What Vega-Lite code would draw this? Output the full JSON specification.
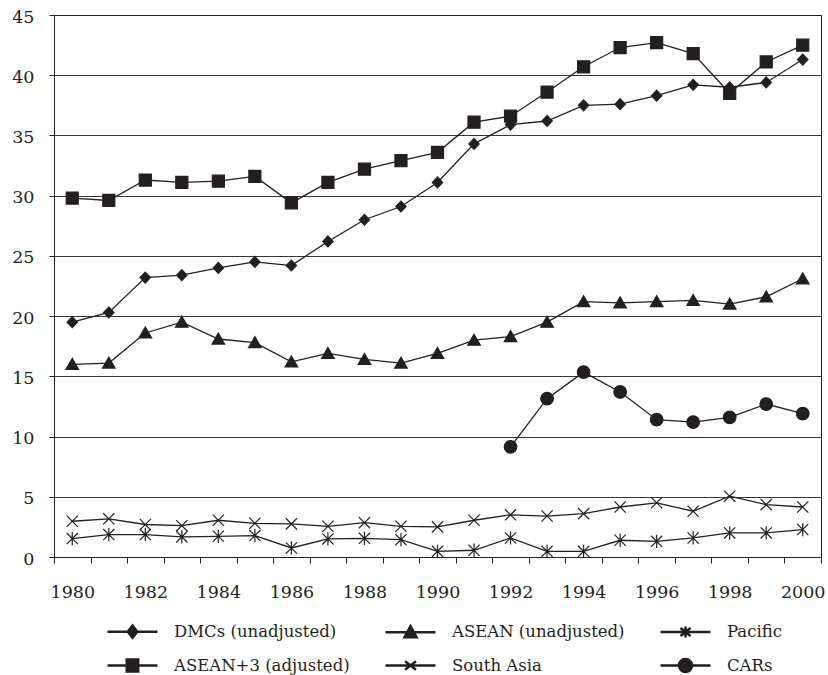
{
  "$schema": "https://vega.github.io/schema/vega-lite/v6.json",
  "width": 767,
  "height": 542,
  "autosize": {"type": "none"},
  "padding": {"left": 54, "top": 15, "right": 7, "bottom": 118},
  "background": "white",
  "config": {
    "view": {"stroke": "#231f20", "strokeWidth": 1},
    "font": "'DejaVu Serif', 'Liberation Serif', serif"
  },
  "data": {
    "values": [
      {"year": 1980, "series": "DMCs (unadjusted)", "value": 19.5},
      {"year": 1981, "series": "DMCs (unadjusted)", "value": 20.3},
      {"year": 1982, "series": "DMCs (unadjusted)", "value": 23.2},
      {"year": 1983, "series": "DMCs (unadjusted)", "value": 23.4},
      {"year": 1984, "series": "DMCs (unadjusted)", "value": 24.0},
      {"year": 1985, "series": "DMCs (unadjusted)", "value": 24.5},
      {"year": 1986, "series": "DMCs (unadjusted)", "value": 24.2},
      {"year": 1987, "series": "DMCs (unadjusted)", "value": 26.2},
      {"year": 1988, "series": "DMCs (unadjusted)", "value": 28.0},
      {"year": 1989, "series": "DMCs (unadjusted)", "value": 29.1},
      {"year": 1990, "series": "DMCs (unadjusted)", "value": 31.1},
      {"year": 1991, "series": "DMCs (unadjusted)", "value": 34.3},
      {"year": 1992, "series": "DMCs (unadjusted)", "value": 35.9},
      {"year": 1993, "series": "DMCs (unadjusted)", "value": 36.2},
      {"year": 1994, "series": "DMCs (unadjusted)", "value": 37.5},
      {"year": 1995, "series": "DMCs (unadjusted)", "value": 37.6},
      {"year": 1996, "series": "DMCs (unadjusted)", "value": 38.3},
      {"year": 1997, "series": "DMCs (unadjusted)", "value": 39.2},
      {"year": 1998, "series": "DMCs (unadjusted)", "value": 39.0},
      {"year": 1999, "series": "DMCs (unadjusted)", "value": 39.4},
      {"year": 2000, "series": "DMCs (unadjusted)", "value": 41.3},
      {"year": 1980, "series": "ASEAN+3 (adjusted)", "value": 29.8},
      {"year": 1981, "series": "ASEAN+3 (adjusted)", "value": 29.6},
      {"year": 1982, "series": "ASEAN+3 (adjusted)", "value": 31.3},
      {"year": 1983, "series": "ASEAN+3 (adjusted)", "value": 31.1},
      {"year": 1984, "series": "ASEAN+3 (adjusted)", "value": 31.2},
      {"year": 1985, "series": "ASEAN+3 (adjusted)", "value": 31.6},
      {"year": 1986, "series": "ASEAN+3 (adjusted)", "value": 29.4},
      {"year": 1987, "series": "ASEAN+3 (adjusted)", "value": 31.1},
      {"year": 1988, "series": "ASEAN+3 (adjusted)", "value": 32.2},
      {"year": 1989, "series": "ASEAN+3 (adjusted)", "value": 32.9},
      {"year": 1990, "series": "ASEAN+3 (adjusted)", "value": 33.6},
      {"year": 1991, "series": "ASEAN+3 (adjusted)", "value": 36.1},
      {"year": 1992, "series": "ASEAN+3 (adjusted)", "value": 36.6},
      {"year": 1993, "series": "ASEAN+3 (adjusted)", "value": 38.6},
      {"year": 1994, "series": "ASEAN+3 (adjusted)", "value": 40.7},
      {"year": 1995, "series": "ASEAN+3 (adjusted)", "value": 42.3},
      {"year": 1996, "series": "ASEAN+3 (adjusted)", "value": 42.7},
      {"year": 1997, "series": "ASEAN+3 (adjusted)", "value": 41.8},
      {"year": 1998, "series": "ASEAN+3 (adjusted)", "value": 38.5},
      {"year": 1999, "series": "ASEAN+3 (adjusted)", "value": 41.1},
      {"year": 2000, "series": "ASEAN+3 (adjusted)", "value": 42.5},
      {"year": 1980, "series": "ASEAN (unadjusted)", "value": 16.0},
      {"year": 1981, "series": "ASEAN (unadjusted)", "value": 16.1},
      {"year": 1982, "series": "ASEAN (unadjusted)", "value": 18.6},
      {"year": 1983, "series": "ASEAN (unadjusted)", "value": 19.5},
      {"year": 1984, "series": "ASEAN (unadjusted)", "value": 18.1},
      {"year": 1985, "series": "ASEAN (unadjusted)", "value": 17.8},
      {"year": 1986, "series": "ASEAN (unadjusted)", "value": 16.2},
      {"year": 1987, "series": "ASEAN (unadjusted)", "value": 16.9},
      {"year": 1988, "series": "ASEAN (unadjusted)", "value": 16.4},
      {"year": 1989, "series": "ASEAN (unadjusted)", "value": 16.1},
      {"year": 1990, "series": "ASEAN (unadjusted)", "value": 16.9},
      {"year": 1991, "series": "ASEAN (unadjusted)", "value": 18.0},
      {"year": 1992, "series": "ASEAN (unadjusted)", "value": 18.3},
      {"year": 1993, "series": "ASEAN (unadjusted)", "value": 19.5},
      {"year": 1994, "series": "ASEAN (unadjusted)", "value": 21.2},
      {"year": 1995, "series": "ASEAN (unadjusted)", "value": 21.1},
      {"year": 1996, "series": "ASEAN (unadjusted)", "value": 21.2},
      {"year": 1997, "series": "ASEAN (unadjusted)", "value": 21.3},
      {"year": 1998, "series": "ASEAN (unadjusted)", "value": 21.0},
      {"year": 1999, "series": "ASEAN (unadjusted)", "value": 21.6},
      {"year": 2000, "series": "ASEAN (unadjusted)", "value": 23.1},
      {"year": 1980, "series": "South Asia", "value": 2.97},
      {"year": 1981, "series": "South Asia", "value": 3.17},
      {"year": 1982, "series": "South Asia", "value": 2.7},
      {"year": 1983, "series": "South Asia", "value": 2.6},
      {"year": 1984, "series": "South Asia", "value": 3.05},
      {"year": 1985, "series": "South Asia", "value": 2.8},
      {"year": 1986, "series": "South Asia", "value": 2.75},
      {"year": 1987, "series": "South Asia", "value": 2.55},
      {"year": 1988, "series": "South Asia", "value": 2.85},
      {"year": 1989, "series": "South Asia", "value": 2.55},
      {"year": 1990, "series": "South Asia", "value": 2.5},
      {"year": 1991, "series": "South Asia", "value": 3.05},
      {"year": 1992, "series": "South Asia", "value": 3.5},
      {"year": 1993, "series": "South Asia", "value": 3.4},
      {"year": 1994, "series": "South Asia", "value": 3.6},
      {"year": 1995, "series": "South Asia", "value": 4.15},
      {"year": 1996, "series": "South Asia", "value": 4.5},
      {"year": 1997, "series": "South Asia", "value": 3.8},
      {"year": 1998, "series": "South Asia", "value": 5.05},
      {"year": 1999, "series": "South Asia", "value": 4.35},
      {"year": 2000, "series": "South Asia", "value": 4.15},
      {"year": 1980, "series": "Pacific", "value": 1.53},
      {"year": 1981, "series": "Pacific", "value": 1.86},
      {"year": 1982, "series": "Pacific", "value": 1.86},
      {"year": 1983, "series": "Pacific", "value": 1.67},
      {"year": 1984, "series": "Pacific", "value": 1.72},
      {"year": 1985, "series": "Pacific", "value": 1.78},
      {"year": 1986, "series": "Pacific", "value": 0.75},
      {"year": 1987, "series": "Pacific", "value": 1.5},
      {"year": 1988, "series": "Pacific", "value": 1.55},
      {"year": 1989, "series": "Pacific", "value": 1.44},
      {"year": 1990, "series": "Pacific", "value": 0.47},
      {"year": 1991, "series": "Pacific", "value": 0.56},
      {"year": 1992, "series": "Pacific", "value": 1.58},
      {"year": 1993, "series": "Pacific", "value": 0.47},
      {"year": 1994, "series": "Pacific", "value": 0.47},
      {"year": 1995, "series": "Pacific", "value": 1.39},
      {"year": 1996, "series": "Pacific", "value": 1.3},
      {"year": 1997, "series": "Pacific", "value": 1.58},
      {"year": 1998, "series": "Pacific", "value": 2.0},
      {"year": 1999, "series": "Pacific", "value": 2.0},
      {"year": 2000, "series": "Pacific", "value": 2.28},
      {"year": 1992, "series": "CARs", "value": 9.15},
      {"year": 1993, "series": "CARs", "value": 13.15},
      {"year": 1994, "series": "CARs", "value": 15.35},
      {"year": 1995, "series": "CARs", "value": 13.7},
      {"year": 1996, "series": "CARs", "value": 11.4},
      {"year": 1997, "series": "CARs", "value": 11.2},
      {"year": 1998, "series": "CARs", "value": 11.6},
      {"year": 1999, "series": "CARs", "value": 12.7},
      {"year": 2000, "series": "CARs", "value": 11.9}
    ]
  },
  "encoding": {
    "x": {
      "field": "year",
      "type": "ordinal",
      "scale": {"type": "band", "paddingInner": 0, "paddingOuter": 0},
      "axis": {
        "title": null,
        "tickBand": "extent",
        "labelExpr": "datum.value % 2 === 0 ? datum.label : ''",
        "labelAngle": 0,
        "labelOverlap": false,
        "labelFont": "'DejaVu Serif', 'Liberation Serif', serif",
        "labelFontSize": 17.5,
        "labelColor": "#231f20",
        "labelPadding": 20,
        "tickSize": 6,
        "tickColor": "#231f20",
        "domainColor": "#231f20",
        "grid": false
      }
    },
    "y": {
      "field": "value",
      "type": "quantitative",
      "scale": {"domain": [0, 45], "nice": false, "zero": true},
      "axis": {
        "title": null,
        "values": [0, 5, 10, 15, 20, 25, 30, 35, 40, 45],
        "labelFont": "'DejaVu Serif', 'Liberation Serif', serif",
        "labelFontSize": 17.5,
        "labelColor": "#231f20",
        "labelPadding": 15,
        "labelOffset": 2,
        "tickSize": 5,
        "tickColor": "#231f20",
        "domainColor": "#231f20",
        "grid": true,
        "gridColor": "#231f20",
        "gridOpacity": 0.9,
        "gridWidth": 1
      }
    }
  },
  "layer": [
    {
      "mark": {"type": "line", "color": "#231f20", "strokeWidth": 1.3},
      "encoding": {"detail": {"field": "series"}}
    },
    {
      "mark": {"type": "point", "filled": true, "fill": "#231f20", "stroke": "#231f20", "strokeWidth": 1.2, "size": 196, "opacity": 1},
      "encoding": {
        "shape": {
          "field": "series",
          "type": "nominal",
          "scale": {
            "domain": ["DMCs (unadjusted)", "ASEAN (unadjusted)", "Pacific", "ASEAN+3 (adjusted)", "South Asia", "CARs"],
            "range": [
              "M0,-0.78L0.74,0L0,0.78L-0.74,0Z",
              "M0,-0.85L0.9,0.72L-0.9,0.72Z",
              "M-0.8,-0.8L0.8,0.8M-0.8,0.8L0.8,-0.8M0,-0.95V0.95",
              "M-0.86,-0.86H0.86V0.86H-0.86Z",
              "M-0.8,-0.8L0.8,0.8M-0.8,0.8L0.8,-0.8",
              "M-0.9,0A0.9,0.9,0,1,0,0.9,0A0.9,0.9,0,1,0,-0.9,0Z"
            ]
          },
          "legend": null
        }
      }
    },
    {
      "transform": [{"filter": "datum.value < -1000"}],
      "mark": {"type": "point", "filled": true, "fill": "#231f20", "stroke": "#231f20", "strokeWidth": 2.5, "opacity": 1},
      "encoding": {
        "shape": {
          "field": "series",
          "type": "nominal",
          "scale": {
            "domain": ["DMCs (unadjusted)", "ASEAN (unadjusted)", "Pacific", "ASEAN+3 (adjusted)", "South Asia", "CARs"],
            "range": [
              "M-3.57,0H3.57M0,-0.88L0.68,0L0,0.88L-0.68,0Z",
              "M-3.57,0H3.57M0,-0.88L0.86,0.7L-0.86,0.7Z",
              "M-3.57,0H3.57M-0.72,-0.58L0.72,0.58M-0.72,0.58L0.72,-0.58M0,-0.78V0.78",
              "M-3.57,0H3.57M-0.82,-0.86H0.82V0.86H-0.82Z",
              "M-3.57,0H3.57M-0.78,-0.62L0.78,0.62M-0.78,0.62L0.78,-0.62",
              "M-3.57,0H3.57M-0.93,0A0.93,0.93,0,1,0,0.93,0A0.93,0.93,0,1,0,-0.93,0Z"
            ]
          },
          "legend": {
            "title": null,
            "orient": "none",
            "direction": "horizontal",
            "legendX": 52,
            "legendY": 608,
            "columns": 3,
            "columnPadding": 30,
            "rowPadding": 10,
            "symbolSize": 196,
            "symbolOffset": 18,
            "symbolStrokeWidth": 2.5,
            "labelFont": "'DejaVu Serif', 'Liberation Serif', serif",
            "labelFontSize": 16.5,
            "labelColor": "#231f20",
            "labelOffset": 33,
            "labelLimit": 400,
            "padding": 0
          }
        }
      }
    }
  ],
  "resolve": {"scale": {"shape": "independent"}, "legend": {"shape": "independent"}}
}
